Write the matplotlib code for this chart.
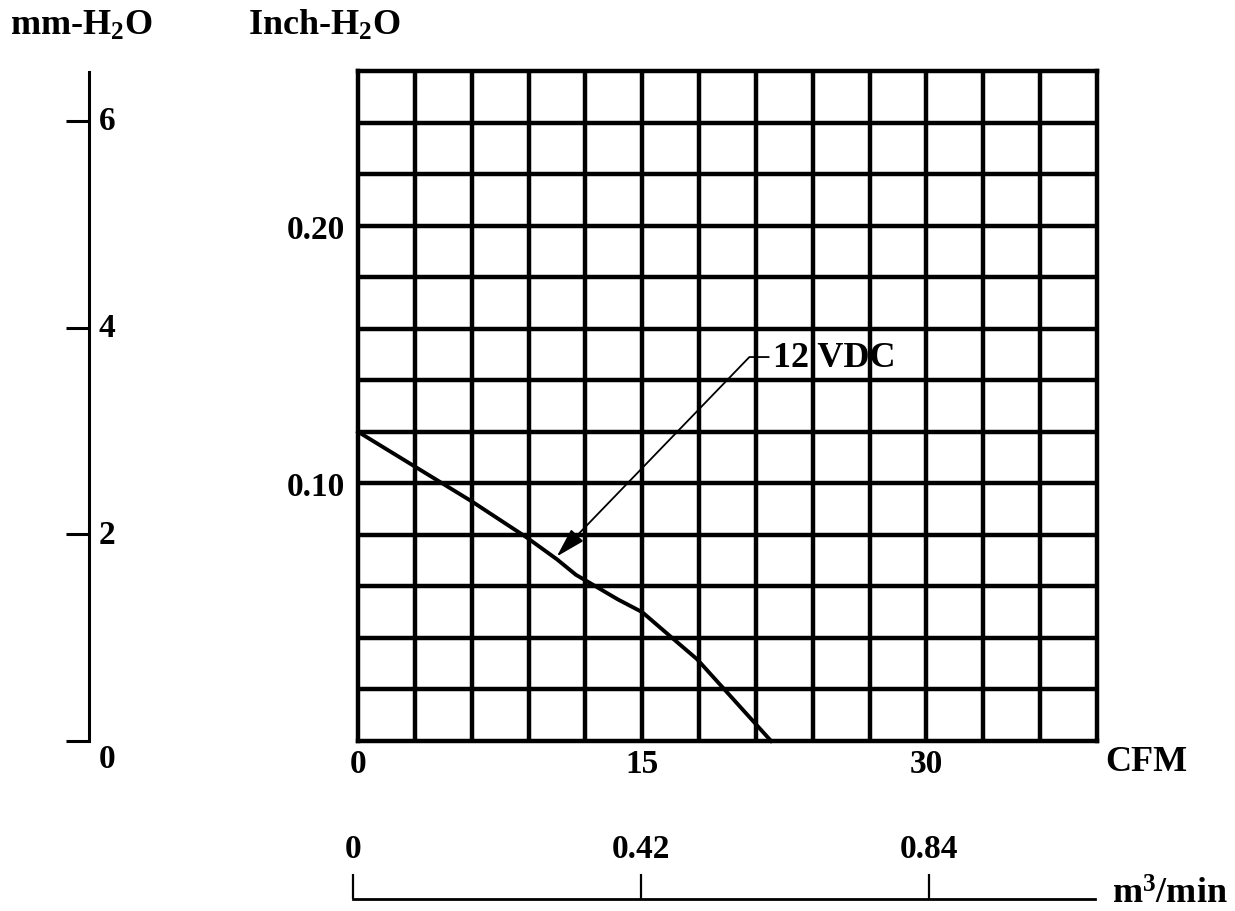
import matplotlib.pyplot as plt

plt.rcParams['font.family'] = ['Liberation Serif', 'DejaVu Serif']
plt.rcParams['font.weight'] = 'bold'
plt.rcParams['mathtext.fontset'] = 'custom'
plt.rcParams['mathtext.rm'] = 'Liberation Serif:bold'
plt.rcParams['mathtext.bf'] = 'Liberation Serif:bold'
plt.rcParams['mathtext.default'] = 'rm'

# 12 VDC fan curve
cfm = [0, 3, 6, 8.9, 10.5, 11.5, 12.2, 13.7, 15.0, 16.5, 17.9, 21.8]
inch_h2o = [0.120, 0.1065, 0.093, 0.079, 0.0705, 0.0645, 0.0615, 0.055,
            0.050, 0.0405, 0.0317, 0.0]

cfm_ticks = [0, 15, 30]
inch_ticks = [0.10, 0.20]
inch_tick_labels = ['0.10', '0.20']
mm_ticks = [0, 2, 4, 6]
m3_ticks = [0, 0.42, 0.84]
m3_tick_labels = ['0', '0.42', '0.84']

W, H = 1235, 912
fig = plt.figure(figsize=(W / 100, H / 100), dpi=100)

lw = 3.2
num_size = 24
txt_size = 26

# main grid
ax = fig.add_axes([358 / W, (H - 742) / H, 739 / W, 670 / H])
ax.set_xlim(0, 39)
ax.set_ylim(0, 0.26)
for x in range(3, 39, 3):
    ax.axvline(x, color='black', lw=lw, zorder=1)
for i in range(1, 13):
    ax.axhline(i * 0.02, color='black', lw=lw, zorder=1)
for s in ax.spines.values():
    s.set_linewidth(lw)
ax.set_xticks(cfm_ticks)
ax.set_xticklabels([str(t) for t in cfm_ticks])
ax.set_yticks(inch_ticks)
ax.set_yticklabels(inch_tick_labels)
ax.tick_params(axis='x', length=0, labelsize=num_size, pad=5)
ax.tick_params(axis='y', length=0, labelsize=num_size, pad=9)

ax.plot(cfm, inch_h2o, color='black', lw=2.8, zorder=3, clip_on=False)

ax.annotate('12 VDC', xy=(10.49, 0.0716), xytext=(21.9, 0.149),
            fontsize=txt_size, ha='left', va='center', zorder=4,
            arrowprops=dict(arrowstyle='-|>,head_length=0.7,head_width=0.2',
                            color='black', lw=1.3, shrinkA=1, shrinkB=0,
                            connectionstyle='angle,angleA=0,angleB=46,rad=0'))

ax.text(39.45, -0.0081, 'CFM', fontsize=txt_size, ha='left', va='center')

# mm-H2O scale on the left
axm = fig.add_axes([40 / W, (H - 742) / H, 49 / W, 669 / H])
axm.set_ylim(0, 6 * 669 / 620)
axm.set_xlim(0, 1)
for k in ['left', 'top', 'bottom']:
    axm.spines[k].set_visible(False)
axm.spines['right'].set_linewidth(2.2)
axm.yaxis.tick_right()
axm.set_yticks(mm_ticks)
axm.set_yticklabels([])
axm.set_xticks([])
axm.tick_params(axis='y', direction='in', length=16.5, width=2.2)
axm.patch.set_alpha(0)
for v in mm_ticks:
    if v == 0:
        axm.text(1.2, -0.02, str(v), transform=axm.get_yaxis_transform(),
                 fontsize=num_size, ha='left', va='top')
    else:
        axm.text(1.2, v, str(v), transform=axm.get_yaxis_transform(),
                 fontsize=num_size, ha='left', va='center')

# m3/min scale at the bottom
axb = fig.add_axes([353 / W, (H - 900) / H - 0.01, 742 / W, 0.01])
axb.set_xlim(0, 1.082)
for k in ['left', 'right', 'bottom']:
    axb.spines[k].set_visible(False)
axb.spines['top'].set_linewidth(2.0)
axb.xaxis.tick_top()
axb.set_xticks(m3_ticks)
axb.set_xticklabels(m3_tick_labels)
axb.set_yticks([])
axb.tick_params(axis='x', direction='out', length=18, width=1.6,
                labelsize=num_size, pad=7)
axb.patch.set_alpha(0)

fig.text(10 / W, 1 - 26 / H, r'mm-H$_2$O', fontsize=txt_size, ha='left', va='center')
fig.text(248 / W, 1 - 26 / H, r'Inch-H$_2$O', fontsize=txt_size, ha='left', va='center')
fig.text(1112 / W, 1 - 895 / H, r'm$^3$/min', fontsize=txt_size, ha='left', va='center')

fig.savefig('out.png', dpi=100, facecolor='white')
